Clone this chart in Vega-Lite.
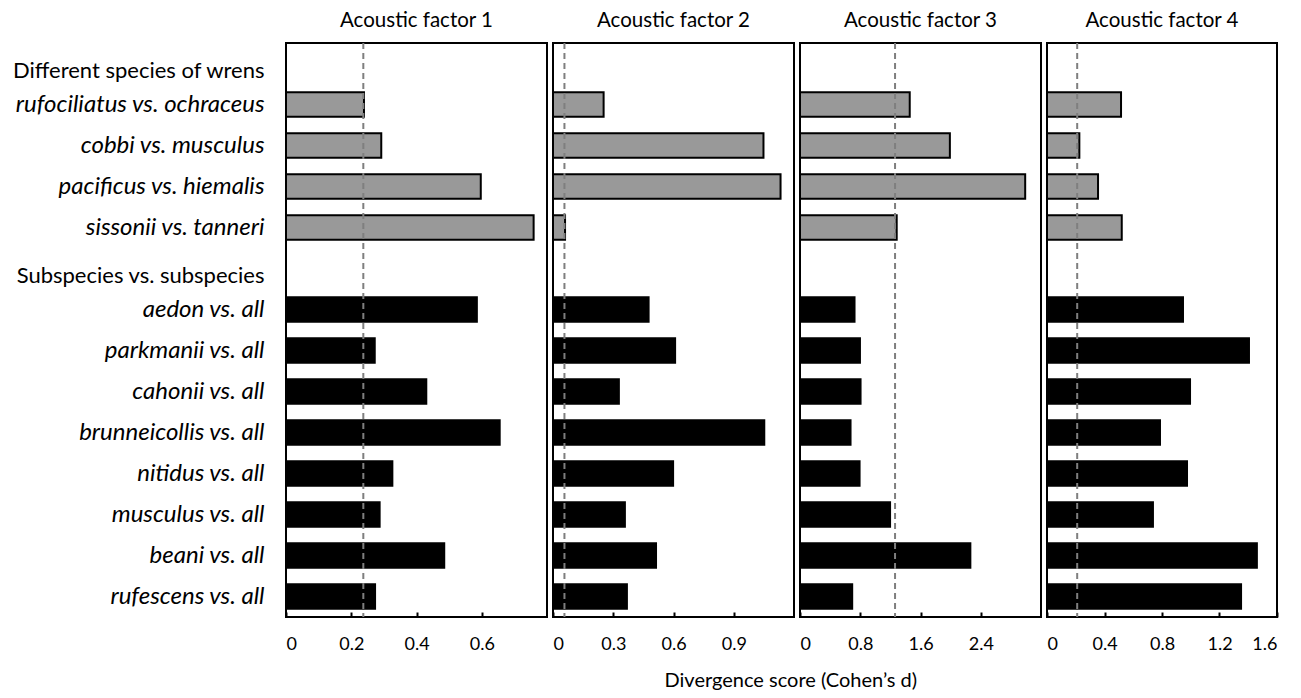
{
  "$schema": "https://vega.github.io/schema/vega-lite/v6.json",
  "background": "white",
  "padding": {"left": 10, "top": 9, "right": 8, "bottom": 8},
  "config": {
    "font": "Lato",
    "view": {"stroke": "black", "strokeWidth": 2},
    "axis": {"domain": false, "grid": false, "labelColor": "black", "labelFont": "Lato"},
    "title": {"font": "Lato", "fontWeight": "normal", "color": "black"}
  },
  "title": {"text": "Divergence score (Cohen’s d)", "orient": "bottom", "anchor": "middle", "fontSize": 20, "offset": 17, "dx": 146},
  "datasets": {
    "scores": [
      {"factor": "F1", "pair": "rufociliatus vs. ochraceus", "group": "species", "d": 0.239},
      {"factor": "F1", "pair": "cobbi vs. musculus", "group": "species", "d": 0.292},
      {"factor": "F1", "pair": "pacificus vs. hiemalis", "group": "species", "d": 0.597},
      {"factor": "F1", "pair": "sissonii vs. tanneri", "group": "species", "d": 0.759},
      {"factor": "F1", "pair": "aedon vs. all", "group": "subspecies", "d": 0.585},
      {"factor": "F1", "pair": "parkmanii vs. all", "group": "subspecies", "d": 0.272},
      {"factor": "F1", "pair": "cahonii vs. all", "group": "subspecies", "d": 0.43},
      {"factor": "F1", "pair": "brunneicollis vs. all", "group": "subspecies", "d": 0.655},
      {"factor": "F1", "pair": "nitidus vs. all", "group": "subspecies", "d": 0.326},
      {"factor": "F1", "pair": "musculus vs. all", "group": "subspecies", "d": 0.287},
      {"factor": "F1", "pair": "beani vs. all", "group": "subspecies", "d": 0.485},
      {"factor": "F1", "pair": "rufescens vs. all", "group": "subspecies", "d": 0.273},
      {"factor": "F2", "pair": "rufociliatus vs. ochraceus", "group": "species", "d": 0.252},
      {"factor": "F2", "pair": "cobbi vs. musculus", "group": "species", "d": 1.048},
      {"factor": "F2", "pair": "pacificus vs. hiemalis", "group": "species", "d": 1.133},
      {"factor": "F2", "pair": "sissonii vs. tanneri", "group": "species", "d": 0.06},
      {"factor": "F2", "pair": "aedon vs. all", "group": "subspecies", "d": 0.476},
      {"factor": "F2", "pair": "parkmanii vs. all", "group": "subspecies", "d": 0.608},
      {"factor": "F2", "pair": "cahonii vs. all", "group": "subspecies", "d": 0.328},
      {"factor": "F2", "pair": "brunneicollis vs. all", "group": "subspecies", "d": 1.052},
      {"factor": "F2", "pair": "nitidus vs. all", "group": "subspecies", "d": 0.598},
      {"factor": "F2", "pair": "musculus vs. all", "group": "subspecies", "d": 0.358},
      {"factor": "F2", "pair": "beani vs. all", "group": "subspecies", "d": 0.513},
      {"factor": "F2", "pair": "rufescens vs. all", "group": "subspecies", "d": 0.368},
      {"factor": "F3", "pair": "rufociliatus vs. ochraceus", "group": "species", "d": 1.457},
      {"factor": "F3", "pair": "cobbi vs. musculus", "group": "species", "d": 1.99},
      {"factor": "F3", "pair": "pacificus vs. hiemalis", "group": "species", "d": 2.99},
      {"factor": "F3", "pair": "sissonii vs. tanneri", "group": "species", "d": 1.284},
      {"factor": "F3", "pair": "aedon vs. all", "group": "subspecies", "d": 0.724},
      {"factor": "F3", "pair": "parkmanii vs. all", "group": "subspecies", "d": 0.796},
      {"factor": "F3", "pair": "cahonii vs. all", "group": "subspecies", "d": 0.804},
      {"factor": "F3", "pair": "brunneicollis vs. all", "group": "subspecies", "d": 0.671},
      {"factor": "F3", "pair": "nitidus vs. all", "group": "subspecies", "d": 0.791},
      {"factor": "F3", "pair": "musculus vs. all", "group": "subspecies", "d": 1.196},
      {"factor": "F3", "pair": "beani vs. all", "group": "subspecies", "d": 2.262},
      {"factor": "F3", "pair": "rufescens vs. all", "group": "subspecies", "d": 0.693},
      {"factor": "F4", "pair": "rufociliatus vs. ochraceus", "group": "species", "d": 0.515},
      {"factor": "F4", "pair": "cobbi vs. musculus", "group": "species", "d": 0.225},
      {"factor": "F4", "pair": "pacificus vs. hiemalis", "group": "species", "d": 0.355},
      {"factor": "F4", "pair": "sissonii vs. tanneri", "group": "species", "d": 0.52},
      {"factor": "F4", "pair": "aedon vs. all", "group": "subspecies", "d": 0.946},
      {"factor": "F4", "pair": "parkmanii vs. all", "group": "subspecies", "d": 1.405},
      {"factor": "F4", "pair": "cahonii vs. all", "group": "subspecies", "d": 0.995},
      {"factor": "F4", "pair": "brunneicollis vs. all", "group": "subspecies", "d": 0.786},
      {"factor": "F4", "pair": "nitidus vs. all", "group": "subspecies", "d": 0.974},
      {"factor": "F4", "pair": "musculus vs. all", "group": "subspecies", "d": 0.737},
      {"factor": "F4", "pair": "beani vs. all", "group": "subspecies", "d": 1.46},
      {"factor": "F4", "pair": "rufescens vs. all", "group": "subspecies", "d": 1.35}
    ],
    "thresholds": [
      {"factor": "F1", "threshold": 0.237},
      {"factor": "F2", "threshold": 0.057},
      {"factor": "F3", "threshold": 1.262},
      {"factor": "F4", "threshold": 0.21}
    ]
  },
  "spacing": 3,
  "resolve": {"scale": {"x": "independent"}},
  "hconcat": [
    {
      "width": 261, "height": 574,
      "title": {"text": "Acoustic factor 1", "fontSize": 20.5, "offset": 11},
      "layer": [
        {
          "data": {"name": "scores"},
          "transform": [{"filter": "datum.factor == 'F1'"}],
          "mark": {"type": "bar", "strokeWidth": 2, "stroke": "black"},
          "encoding": {
            "y": {"field": "pair", "type": "nominal", "sort": null,
              "scale": {"domain": ["Different species of wrens", "rufociliatus vs. ochraceus", "cobbi vs. musculus", "pacificus vs. hiemalis", "sissonii vs. tanneri", "Subspecies vs. subspecies", "aedon vs. all", "parkmanii vs. all", "cahonii vs. all", "brunneicollis vs. all", "nitidus vs. all", "musculus vs. all", "beani vs. all", "rufescens vs. all"], "paddingInner": 0.4, "paddingOuter": 0.2},
              "axis": {"title": null, "ticks": false, "labelPadding": 22, "labelLimit": 400,
                "labelFontSize": {"condition": {"test": "datum.value == 'Different species of wrens' || datum.value == 'Subspecies vs. subspecies'", "value": 22}, "value": 24},
                "labelFontStyle": {"condition": {"test": "datum.value == 'Different species of wrens' || datum.value == 'Subspecies vs. subspecies'", "value": "normal"}, "value": "italic"},
                "labelOffset": {"condition": {"test": "datum.value == 'Different species of wrens' || datum.value == 'Subspecies vs. subspecies'", "value": 7}, "value": 0}}},
            "x": {"field": "d", "type": "quantitative", "scale": {"domain": [0, 0.8], "nice": false},
              "axis": {"title": null, "values": [0, 0.2, 0.4, 0.6], "format": "~g", "tickSize": -5, "tickWidth": 2, "tickColor": "black", "labelPadding": 23, "labelFontSize": 18}},
            "fill": {"field": "group", "type": "nominal", "scale": {"domain": ["species", "subspecies"], "range": ["#999999", "#000000"]}, "legend": null}
          }
        },
        {
          "data": {"name": "thresholds"},
          "transform": [{"filter": "datum.factor == 'F1'"}],
          "mark": {"type": "rule", "color": "#7f7f7f", "strokeDash": [6, 4], "strokeWidth": 2},
          "encoding": {"x": {"field": "threshold", "type": "quantitative"}}
        }
      ]
    },
    {
      "width": 241, "height": 574,
      "title": {"text": "Acoustic factor 2", "fontSize": 20.5, "offset": 11},
      "layer": [
        {
          "data": {"name": "scores"},
          "transform": [{"filter": "datum.factor == 'F2'"}],
          "mark": {"type": "bar", "strokeWidth": 2, "stroke": "black"},
          "encoding": {
            "y": {"field": "pair", "type": "nominal", "sort": null,
              "scale": {"domain": ["Different species of wrens", "rufociliatus vs. ochraceus", "cobbi vs. musculus", "pacificus vs. hiemalis", "sissonii vs. tanneri", "Subspecies vs. subspecies", "aedon vs. all", "parkmanii vs. all", "cahonii vs. all", "brunneicollis vs. all", "nitidus vs. all", "musculus vs. all", "beani vs. all", "rufescens vs. all"], "paddingInner": 0.4, "paddingOuter": 0.2},
              "axis": null},
            "x": {"field": "d", "type": "quantitative", "scale": {"domain": [0, 1.2], "nice": false},
              "axis": {"title": null, "values": [0, 0.3, 0.6, 0.9], "format": "~g", "tickSize": -5, "tickWidth": 2, "tickColor": "black", "labelPadding": 23, "labelFontSize": 18}},
            "fill": {"field": "group", "type": "nominal", "scale": {"domain": ["species", "subspecies"], "range": ["#999999", "#000000"]}, "legend": null}
          }
        },
        {
          "data": {"name": "thresholds"},
          "transform": [{"filter": "datum.factor == 'F2'"}],
          "mark": {"type": "rule", "color": "#7f7f7f", "strokeDash": [6, 4], "strokeWidth": 2},
          "encoding": {"x": {"field": "threshold", "type": "quantitative"}}
        }
      ]
    },
    {
      "width": 241, "height": 574,
      "title": {"text": "Acoustic factor 3", "fontSize": 20.5, "offset": 11},
      "layer": [
        {
          "data": {"name": "scores"},
          "transform": [{"filter": "datum.factor == 'F3'"}],
          "mark": {"type": "bar", "strokeWidth": 2, "stroke": "black"},
          "encoding": {
            "y": {"field": "pair", "type": "nominal", "sort": null,
              "scale": {"domain": ["Different species of wrens", "rufociliatus vs. ochraceus", "cobbi vs. musculus", "pacificus vs. hiemalis", "sissonii vs. tanneri", "Subspecies vs. subspecies", "aedon vs. all", "parkmanii vs. all", "cahonii vs. all", "brunneicollis vs. all", "nitidus vs. all", "musculus vs. all", "beani vs. all", "rufescens vs. all"], "paddingInner": 0.4, "paddingOuter": 0.2},
              "axis": null},
            "x": {"field": "d", "type": "quantitative", "scale": {"domain": [0, 3.2], "nice": false},
              "axis": {"title": null, "values": [0, 0.8, 1.6, 2.4], "format": "~g", "tickSize": -5, "tickWidth": 2, "tickColor": "black", "labelPadding": 23, "labelFontSize": 18}},
            "fill": {"field": "group", "type": "nominal", "scale": {"domain": ["species", "subspecies"], "range": ["#999999", "#000000"]}, "legend": null}
          }
        },
        {
          "data": {"name": "thresholds"},
          "transform": [{"filter": "datum.factor == 'F3'"}],
          "mark": {"type": "rule", "color": "#7f7f7f", "strokeDash": [6, 4], "strokeWidth": 2},
          "encoding": {"x": {"field": "threshold", "type": "quantitative"}}
        }
      ]
    },
    {
      "width": 230, "height": 574,
      "title": {"text": "Acoustic factor 4", "fontSize": 20.5, "offset": 11},
      "layer": [
        {
          "data": {"name": "scores"},
          "transform": [{"filter": "datum.factor == 'F4'"}],
          "mark": {"type": "bar", "strokeWidth": 2, "stroke": "black"},
          "encoding": {
            "y": {"field": "pair", "type": "nominal", "sort": null,
              "scale": {"domain": ["Different species of wrens", "rufociliatus vs. ochraceus", "cobbi vs. musculus", "pacificus vs. hiemalis", "sissonii vs. tanneri", "Subspecies vs. subspecies", "aedon vs. all", "parkmanii vs. all", "cahonii vs. all", "brunneicollis vs. all", "nitidus vs. all", "musculus vs. all", "beani vs. all", "rufescens vs. all"], "paddingInner": 0.4, "paddingOuter": 0.2},
              "axis": null},
            "x": {"field": "d", "type": "quantitative", "scale": {"domain": [0, 1.6], "nice": false},
              "axis": {"title": null, "values": [0, 0.4, 0.8, 1.2, 1.6], "format": "~g", "tickSize": -5, "tickWidth": 2, "tickColor": "black", "labelPadding": 23, "labelFontSize": 18}},
            "fill": {"field": "group", "type": "nominal", "scale": {"domain": ["species", "subspecies"], "range": ["#999999", "#000000"]}, "legend": null}
          }
        },
        {
          "data": {"name": "thresholds"},
          "transform": [{"filter": "datum.factor == 'F4'"}],
          "mark": {"type": "rule", "color": "#7f7f7f", "strokeDash": [6, 4], "strokeWidth": 2},
          "encoding": {"x": {"field": "threshold", "type": "quantitative"}}
        }
      ]
    }
  ]
}
